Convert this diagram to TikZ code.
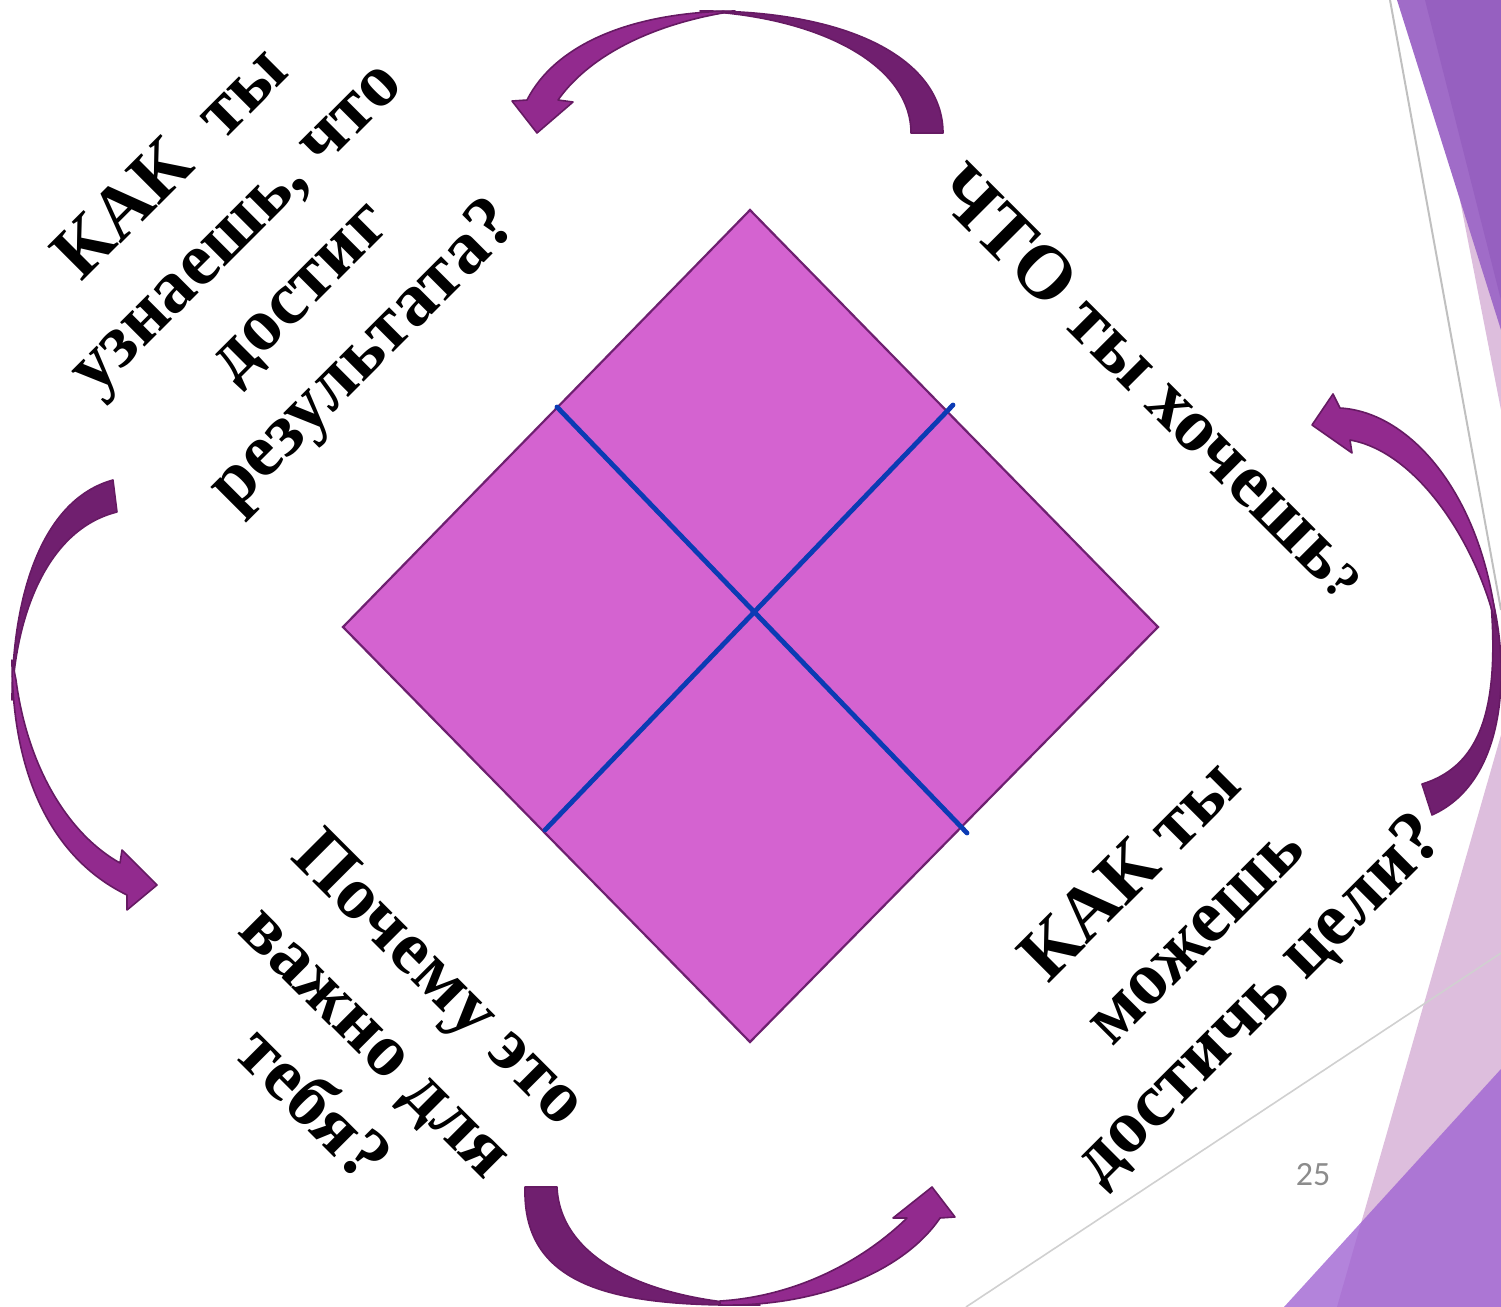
\documentclass[tikz,border=0pt]{standalone}
\usepackage{fontspec}
\setmainfont{Liberation Serif}
\newfontfamily\numfont{Carlito}
\definecolor{diafill}{RGB}{212,99,208}
\definecolor{diaedge}{RGB}{110,32,112}
\definecolor{bluel}{RGB}{11,59,180}
\definecolor{arrback}{RGB}{112,31,111}
\definecolor{arrfront}{RGB}{146,42,142}
\definecolor{arredge}{RGB}{102,26,99}
\definecolor{purpA}{RGB}{160,108,200}
\definecolor{purpB}{RGB}{150,96,192}
\definecolor{palel}{RGB}{221,190,221}
\definecolor{purpC}{RGB}{160,100,210}
\definecolor{grayl}{RGB}{192,192,192}
\definecolor{grayl2}{RGB}{208,208,208}
\definecolor{pagenum}{RGB}{140,140,140}
\begin{document}
\begin{tikzpicture}[x=0.5pt,y=-0.5pt,
  qtext/.style={inner sep=0pt, text=black, align=center, font=\fontsize{37.5}{45}\selectfont\bfseries},
  backpiece/.style={fill=arrback, draw=arredge, line width=0.8pt, line join=round},
  frontpiece/.style={fill=arrfront, draw=arredge, line width=0.8pt, line join=round},
  divider/.style={draw=bluel, line width=2.4pt, line cap=round}]
\useasboundingbox (0,0) rectangle (1501,1307);
% background decorations
\fill[palel] (1460,200) -- (1501,200) -- (1501,410) -- cycle;
\fill[purpA] (1397,0) -- (1501,0) -- (1501,330) -- cycle;
\fill[purpB] (1425,0) -- (1501,0) -- (1501,300) -- cycle;
\draw[grayl, line width=1pt] (1390,0) -- (1501,610);
\fill[palel] (1501,735) -- (1501,1307) -- (1337,1307) -- cycle;
\draw[grayl2, line width=0.8pt] (966,1307) -- (1501,953);
\fill[purpC, fill opacity=0.8] (1501,1069) -- (1501,1307) -- (1284,1307) -- cycle;
% diamond
\coordinate (dt) at (750,210);
\coordinate (dr) at (1158,627);
\coordinate (db) at (750,1042);
\coordinate (dl) at (343,627);
\draw[fill=diafill, draw=diaedge, line width=1.1pt, line join=miter] (dt) -- (dr) -- (db) -- (dl) -- cycle;
\coordinate (b1s) at (557,407);
\coordinate (b1e) at (967,833);
\coordinate (b2s) at (953,405);
\coordinate (b2e) at (545,830);
\draw[divider] (b1s) -- (b1e);
\draw[divider] (b2s) -- (b2e);
% texts
\node[qtext, rotate=45] (tl) at (270,262) {\fontsize{37.5}{44}\selectfont КАК\ \ ты\\узнаешь, что\\достиг\\результата?};
\node[qtext, rotate=-45, anchor=base, font=\fontsize{38}{45}\selectfont\bfseries] (tr) at (1136,399) {ЧТО ты хочешь{\fontsize{26}{30}\selectfont ?}};
\node[qtext, rotate=45] (br) at (1197,937) {КАК ты\\можешь\\достичь цели?};
\node[qtext, rotate=-45] (bl) at (378,1040) {Почему это\\важно для\\тебя?};
\node[text=pagenum, font=\numfont\fontsize{17}{20}\selectfont, inner sep=0pt] (pg) at (1313,1175) {25};
% top arrow
\path[backpiece] (943,133) .. controls (943,60) and (850,10) .. (700,11)
  .. controls (820,17) and (911,65) .. (911,133) -- cycle;
\path[frontpiece] (527,100) .. controls (555,45) and (630,12) .. (735,11)
  .. controls (660,22) and (592,52) .. (558,100) -- (573,102) -- (537,133) -- (512,101) -- cycle;
% left arrow
\path[backpiece] (113,480) .. controls (40,500) and (12,600) .. (12,700)
  .. controls (15,620) and (45,530) .. (117,512) -- cycle;
\path[frontpiece] (12,660) .. controls (12,780) and (55,860) .. (127,895)
  -- (127,910) -- (157,885) -- (122,850) -- (120,863)
  .. controls (70,835) and (28,770) .. (16,680) -- cycle;
% right arrow
\path[backpiece] (1490,590) .. controls (1510,660) and (1510,780) .. (1432,815)
  -- (1422,784) .. controls (1485,765) and (1500,700) .. (1490,590) -- cycle;
\path[frontpiece] (1340,408) .. controls (1412,412) and (1484,498) .. (1497,630)
  .. controls (1478,545) and (1418,452) .. (1350,440) -- (1352,453) -- (1312,425) -- (1333,394) -- cycle;
% bottom arrow
\path[backpiece] (525,1187) .. controls (522,1290) and (620,1307) .. (760,1305)
  .. controls (650,1300) and (560,1260) .. (557,1187) -- cycle;
\path[frontpiece] (720,1305) .. controls (820,1307) and (905,1270) .. (940,1218)
  -- (955,1217) -- (932,1187) -- (893,1218) -- (907,1218)
  .. controls (866,1258) and (800,1296) .. (720,1301) -- cycle;
\end{tikzpicture}
\end{document}
